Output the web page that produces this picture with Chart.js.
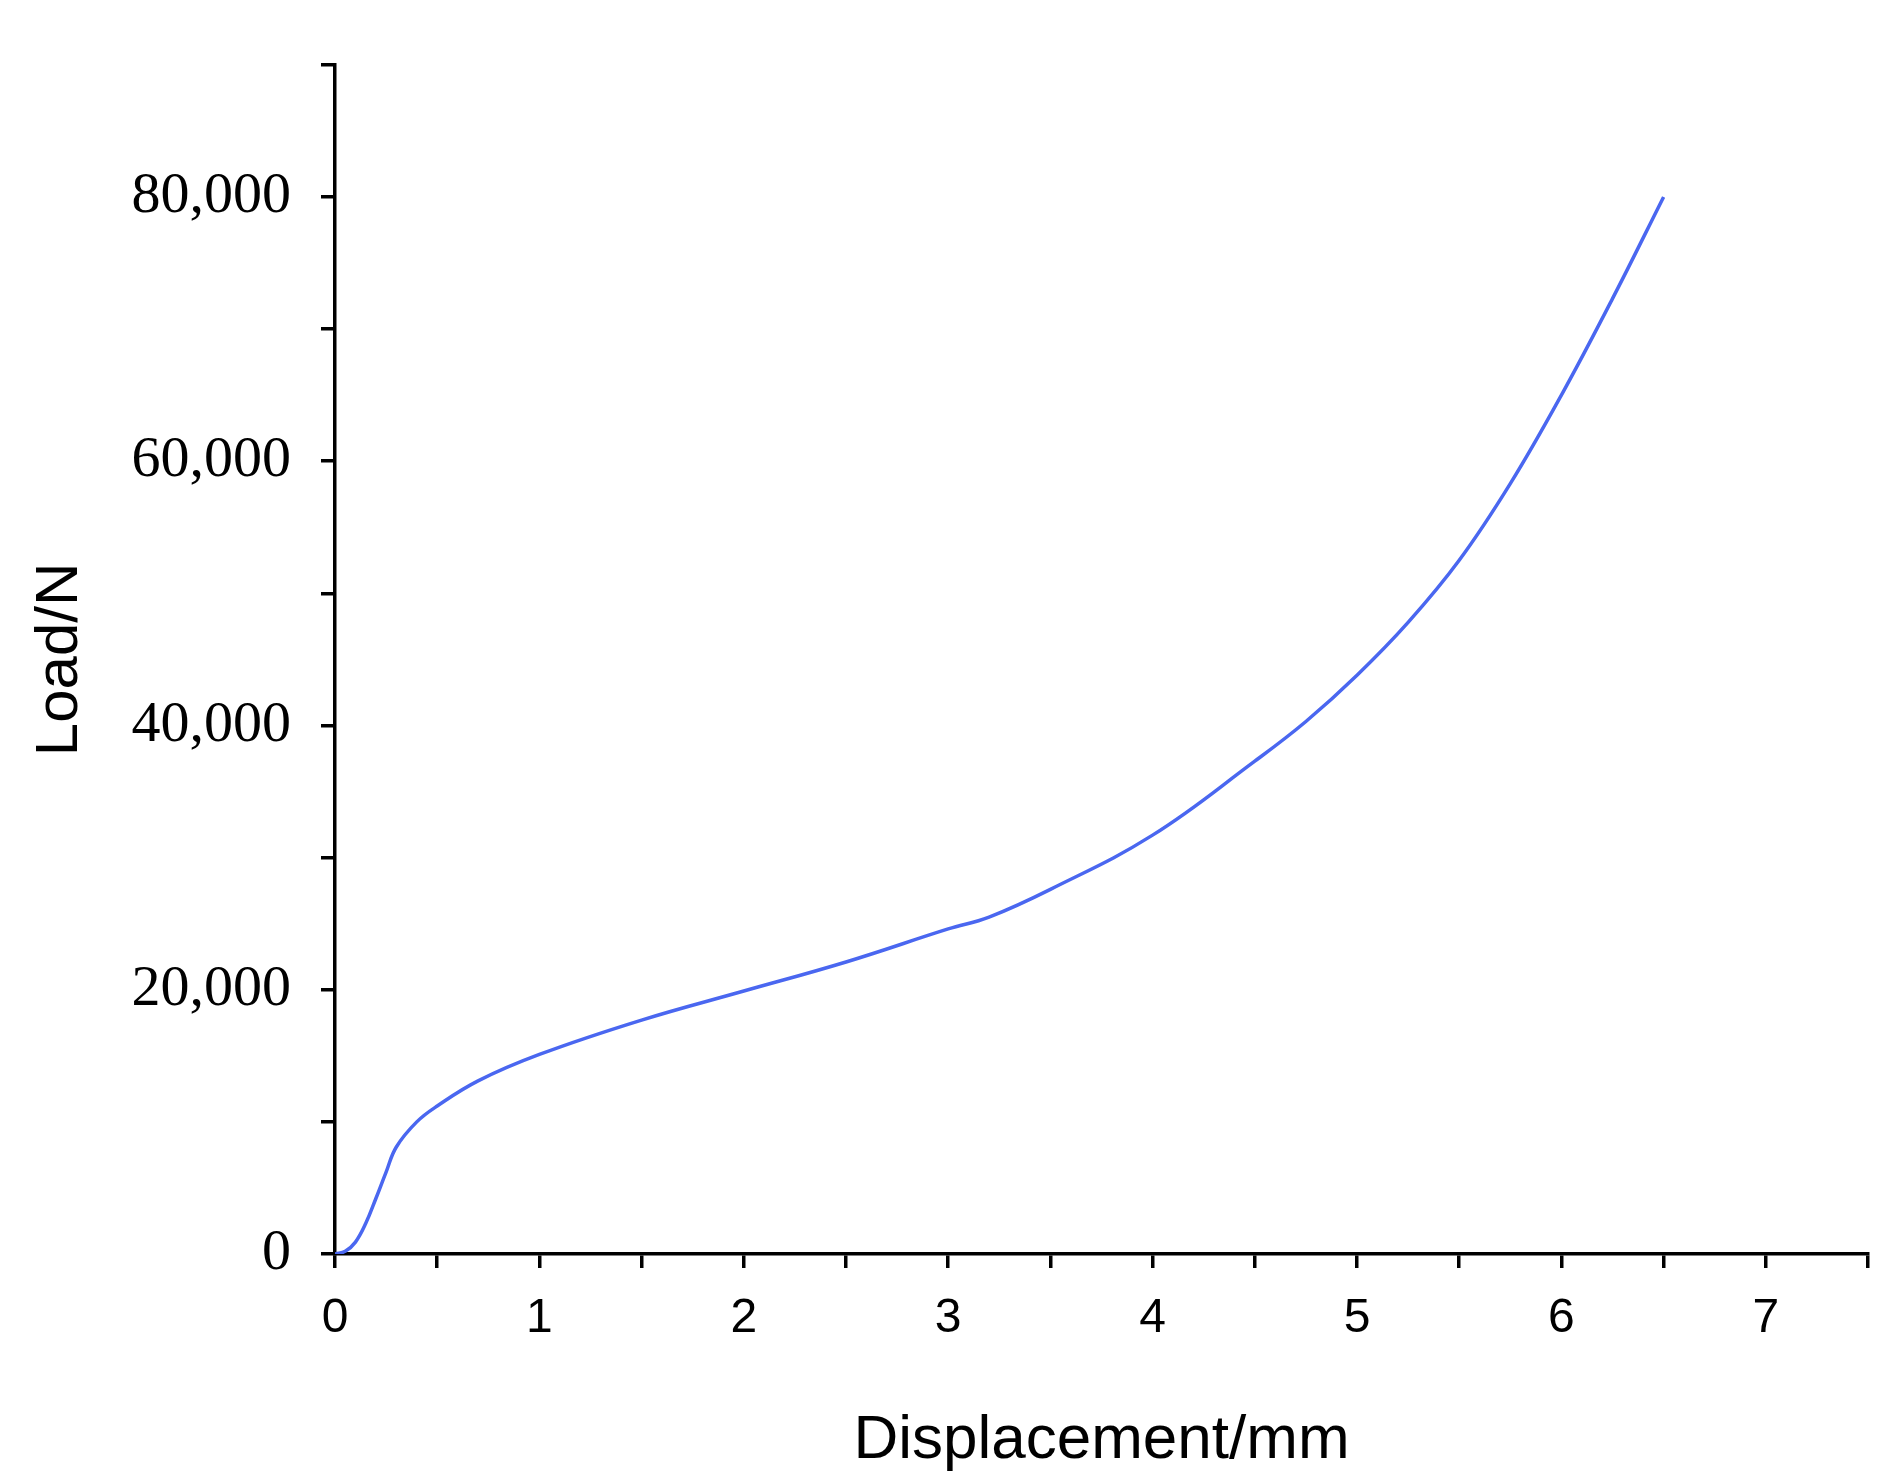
<!DOCTYPE html>
<html><head><meta charset="utf-8">
<script src="https://cdn.jsdelivr.net/npm/chart.js@4"></script>
<style>html,body{margin:0;padding:0;background:#fff}#w{width:1896px;height:1482px}</style>
</head><body><div id="w"><canvas id="c"></canvas></div>
<script>
const displacement = [0,0.05,0.1,0.15,0.2,0.25,0.3,0.4,0.5,0.7,1.0,1.5,2.0,2.5,3.0,3.2,3.5,4.0,4.5,4.75,5.0,5.25,5.5,5.75,6.0,6.25,6.5];
const load = [0,200,900,2300,4200,6200,8100,10000,11200,13100,15100,17700,19900,22100,24600,25500,27600,31700,37300,40300,43800,47800,52500,58300,65000,72300,80000];
const xTicks = [0,1,2,3,4,5,6,7];
const yTickLabels = [0,20000,40000,60000,80000];

new Chart(document.getElementById('c'), {
  type: 'line',
  data: { datasets: [{ data: displacement.map((x,i)=>({x, y: load[i]})), borderColor:'#4a67f0', borderWidth:3.5, pointRadius:0, tension:0.4, fill:false }]},
  options: {
    responsive:true, maintainAspectRatio:false, animation:false,
    layout:{padding:{top:24,right:28,left:20,bottom:0}},
    plugins:{legend:{display:false},tooltip:{enabled:false}},
    scales:{
      x:{type:'linear',min:0,max:7.5,
        afterFit(s){s.height=228;},
        border:{color:'#000',width:3.5},
        grid:{drawOnChartArea:false,tickLength:14,color:'#000',lineWidth:3.5},
        ticks:{stepSize:0.5,color:'#000',padding:22,maxRotation:0,font:{family:'Liberation Sans, Arial',size:48},
          callback:v=> xTicks.includes(v)? String(v):''},
        title:{display:true,text:'Displacement/mm',color:'#000',font:{family:'Liberation Sans, Arial',size:62},padding:{top:14}}
      },
      y:{type:'linear',min:0,max:90000,
        afterFit(s){s.width=315;},
        border:{color:'#000',width:3.5},
        grid:{drawOnChartArea:false,tickLength:14,color:'#000',lineWidth:3.5},
        ticks:{stepSize:10000,color:'#000',padding:30,font:{family:'Liberation Serif, serif',size:58},
          callback:v=> yTickLabels.includes(v)? v.toLocaleString('en-US'):''},
        title:{display:true,text:'Load/N',color:'#000',font:{family:'Liberation Sans, Arial',size:60},padding:{bottom:10}}
      }
    }
  }
});
</script></body></html>
